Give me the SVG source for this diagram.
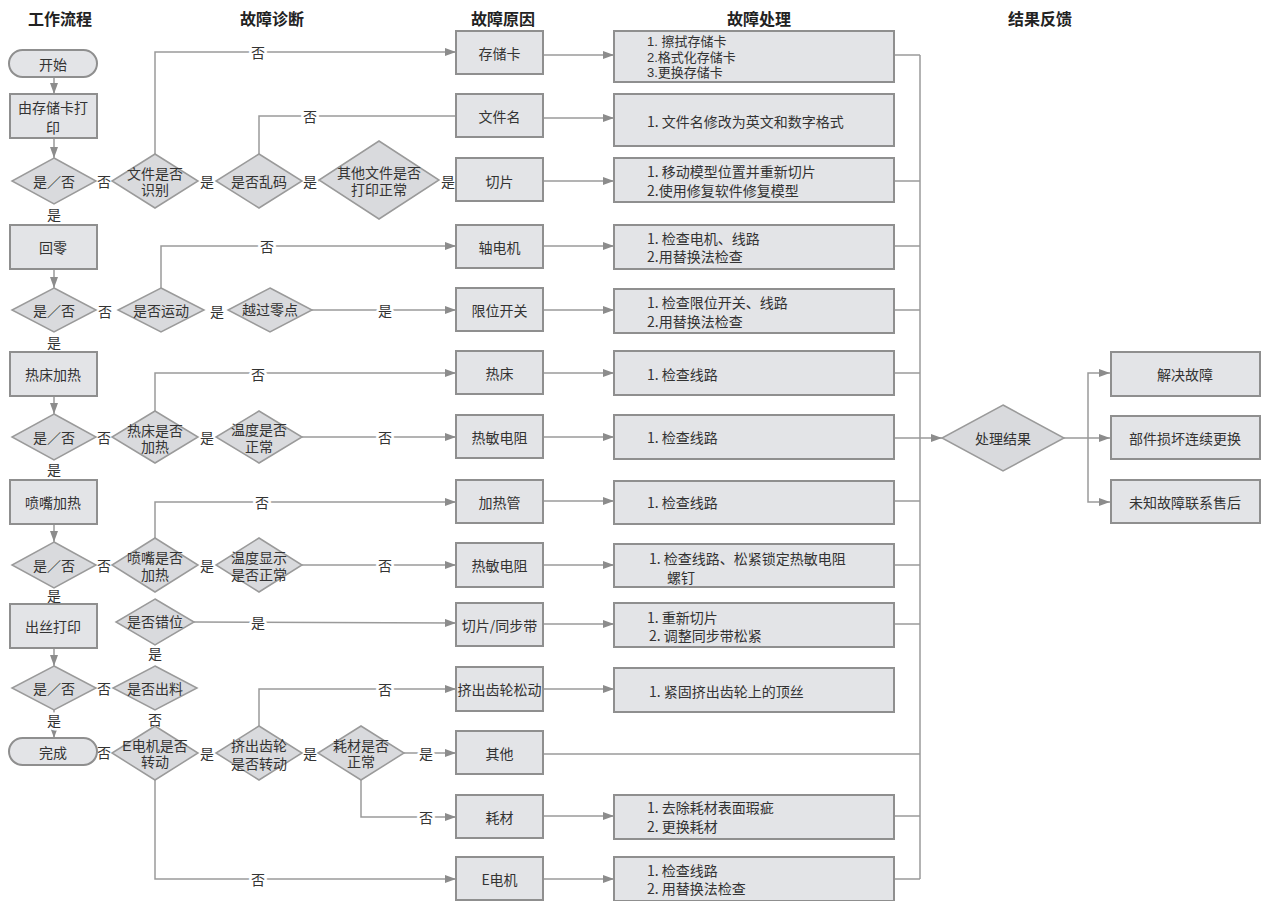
<svg xmlns="http://www.w3.org/2000/svg" width="1261" height="901" viewBox="0 0 1261 901">
<style>
text{font-family:"Noto Sans CJK SC","Noto Sans",sans-serif;font-size:14px;fill:#333;dominant-baseline:central}
.title{font-size:16px;font-weight:bold;fill:#222;text-anchor:middle}
.c{text-anchor:middle}
.s{font-size:13px}
.t{font-family:"Liberation Sans","Noto Sans CJK SC",sans-serif}
.box{fill:#e3e4e7;stroke:#8f8f8f;stroke-width:2}
.dia{fill:#d9dadd;stroke:#9a9a9a;stroke-width:1.5}
.ln{fill:none;stroke:#9a9a9a;stroke-width:1.5}
.ar{marker-end:url(#ah)}
.lbl{text-anchor:middle;stroke:#fff;stroke-width:5;paint-order:stroke;stroke-linejoin:round}
</style>
<defs>
<marker id="ah" markerUnits="userSpaceOnUse" markerWidth="11" markerHeight="8" refX="11" refY="4" orient="auto">
<path d="M0,0 L11,4 L0,8 z" fill="#8c8c8c"/>
</marker>
</defs>
<rect width="1261" height="901" fill="#fff"/>
<g id="titles">
<text class="title" x="60" y="18">工作流程</text>
<text class="title" x="272" y="18">故障诊断</text>
<text class="title" x="503" y="18">故障原因</text>
<text class="title" x="759" y="18">故障处理</text>
<text class="title" x="1040" y="18">结果反馈</text>
</g>
<g id="connectors">
<line class="ln ar" x1="54" y1="77" x2="54" y2="94"/>
<line class="ln ar" x1="54" y1="138" x2="54" y2="158"/>
<line class="ln ar" x1="54" y1="269" x2="54" y2="288"/>
<line class="ln ar" x1="54" y1="396" x2="54" y2="414"/>
<line class="ln ar" x1="54" y1="524" x2="54" y2="542"/>
<line class="ln ar" x1="54" y1="648" x2="54" y2="666"/>
<line class="ln ar" x1="54" y1="710" x2="54" y2="738"/>
<polyline class="ln ar" points="155,154 155,52 456,52"/>
<polyline class="ln" points="259,154 259,116 456,116"/>
<line class="ln ar" x1="302" y1="181" x2="319" y2="181"/>
<polyline class="ln ar" points="161,288 161,246 456,246"/>
<line class="ln ar" x1="312" y1="310" x2="456" y2="310"/>
<polyline class="ln ar" points="155,411 155,373 456,373"/>
<line class="ln ar" x1="302" y1="437" x2="456" y2="437"/>
<polyline class="ln ar" points="155,538 155,502 456,502"/>
<line class="ln ar" x1="302" y1="565" x2="456" y2="565"/>
<line class="ln ar" x1="194" y1="622" x2="456" y2="623"/>
<line class="ln ar" x1="302" y1="753" x2="318" y2="753"/>
<polyline class="ln ar" points="259,726 259,689 456,689"/>
<line class="ln ar" x1="404" y1="753" x2="456" y2="753"/>
<polyline class="ln ar" points="361,780 361,817 456,817"/>
<polyline class="ln ar" points="155,780 155,879 456,879"/>
<line class="ln ar" x1="543" y1="55" x2="614" y2="55"/>
<line class="ln ar" x1="543" y1="118" x2="614" y2="118"/>
<line class="ln ar" x1="543" y1="181" x2="614" y2="181"/>
<line class="ln ar" x1="543" y1="246" x2="614" y2="246"/>
<line class="ln ar" x1="543" y1="310" x2="614" y2="310"/>
<line class="ln ar" x1="543" y1="373" x2="614" y2="373"/>
<line class="ln ar" x1="543" y1="437" x2="614" y2="437"/>
<line class="ln ar" x1="543" y1="501" x2="614" y2="501"/>
<line class="ln ar" x1="543" y1="565" x2="614" y2="565"/>
<line class="ln ar" x1="543" y1="624" x2="614" y2="624"/>
<line class="ln ar" x1="543" y1="689" x2="614" y2="689"/>
<line class="ln ar" x1="543" y1="816" x2="614" y2="816"/>
<line class="ln ar" x1="543" y1="879" x2="614" y2="879"/>
<line class="ln" x1="920" y1="55" x2="920" y2="879"/>
<line class="ln" x1="894" y1="55" x2="920" y2="55"/>
<line class="ln" x1="894" y1="181" x2="920" y2="181"/>
<line class="ln" x1="894" y1="246" x2="920" y2="246"/>
<line class="ln" x1="894" y1="310" x2="920" y2="310"/>
<line class="ln" x1="894" y1="373" x2="920" y2="373"/>
<line class="ln ar" x1="894" y1="438" x2="942" y2="438"/>
<line class="ln" x1="894" y1="501" x2="920" y2="501"/>
<line class="ln" x1="894" y1="565" x2="920" y2="565"/>
<line class="ln" x1="894" y1="624" x2="920" y2="624"/>
<line class="ln" x1="543" y1="754" x2="920" y2="754"/>
<line class="ln" x1="894" y1="816" x2="920" y2="816"/>
<line class="ln" x1="894" y1="879" x2="920" y2="879"/>
<line class="ln ar" x1="1064" y1="438" x2="1110" y2="438"/>
<polyline class="ln ar" points="1088,438 1088,373 1110,373"/>
<polyline class="ln ar" points="1088,438 1088,502 1110,502"/>
</g>
<g id="labels">
<text class="lbl" x="54" y="214">是</text>
<text class="lbl" x="54" y="342">是</text>
<text class="lbl" x="54" y="469">是</text>
<text class="lbl" x="54" y="595">是</text>
<text class="lbl" x="54" y="720">是</text>
<text class="lbl" x="104" y="181">否</text>
<text class="lbl" x="105" y="311">否</text>
<text class="lbl" x="104" y="437">否</text>
<text class="lbl" x="104" y="565">否</text>
<text class="lbl" x="104" y="688">否</text>
<text class="lbl" x="104" y="752">否</text>
<text class="lbl" x="258" y="52">否</text>
<text class="lbl" x="310" y="116">否</text>
<text class="lbl" x="207" y="181">是</text>
<text class="lbl" x="310" y="181">是</text>
<text class="lbl" x="448" y="181">是</text>
<text class="lbl" x="267" y="246">否</text>
<text class="lbl" x="217" y="311">是</text>
<text class="lbl" x="385" y="310">是</text>
<text class="lbl" x="258" y="374">否</text>
<text class="lbl" x="207" y="437">是</text>
<text class="lbl" x="385" y="437">否</text>
<text class="lbl" x="262" y="502">否</text>
<text class="lbl" x="207" y="565">是</text>
<text class="lbl" x="385" y="565">否</text>
<text class="lbl" x="258" y="622">是</text>
<text class="lbl" x="155" y="653">是</text>
<text class="lbl" x="155" y="719">否</text>
<text class="lbl" x="385" y="689">否</text>
<text class="lbl" x="207" y="753">是</text>
<text class="lbl" x="310" y="753">是</text>
<text class="lbl" x="426" y="753">是</text>
<text class="lbl" x="426" y="817">否</text>
<text class="lbl" x="258" y="879">否</text>
</g>
<g id="start"><rect class="box" x="9" y="50" width="88" height="27" rx="13.5"/><text class="c" x="53" y="63.5">开始</text></g>
<g id="printcard"><rect class="box" x="10" y="94" width="87" height="44"/><text class="c" x="53" y="107">由存储卡打<tspan x="53" y="127">印</tspan></text></g>
<g id="yn1"><polygon class="dia" points="54,158 96,181 54,204 12,181"/><text class="c" x="54" y="181">是／否</text></g>
<g id="home"><rect class="box" x="10" y="225" width="87" height="44"/><text class="c" x="53" y="247">回零</text></g>
<g id="yn2"><polygon class="dia" points="54,288 96,310 54,332 12,310"/><text class="c" x="54" y="310">是／否</text></g>
<g id="bedheat"><rect class="box" x="10" y="352" width="87" height="44"/><text class="c" x="53" y="374">热床加热</text></g>
<g id="yn3"><polygon class="dia" points="54,414 96,437 54,460 12,437"/><text class="c" x="54" y="437">是／否</text></g>
<g id="nozheat"><rect class="box" x="10" y="480" width="87" height="44"/><text class="c" x="53" y="502">喷嘴加热</text></g>
<g id="yn4"><polygon class="dia" points="54,542 96,565 54,588 12,565"/><text class="c" x="54" y="565">是／否</text></g>
<g id="extrude"><rect class="box" x="10" y="604" width="87" height="44"/><text class="c" x="53" y="626">出丝打印</text></g>
<g id="yn5"><polygon class="dia" points="54,666 96,688 54,710 12,688"/><text class="c" x="54" y="688">是／否</text></g>
<g id="done"><rect class="box" x="9" y="738" width="88" height="27" rx="13.5"/><text class="c" x="53" y="751.5">完成</text></g>
<g id="d1"><polygon class="dia" points="155,154 198,181 155,208 112,181"/><text class="c t" x="155" y="174">文件是否<tspan x="155" y="190">识别</tspan></text></g>
<g id="d2"><polygon class="dia" points="259,154 302,181 259,208 216,181"/><text class="c" x="259" y="181">是否乱码</text></g>
<g id="d3"><polygon class="dia" points="379,141 439,180 379,219 319,180"/><text class="c t" x="379" y="173">其他文件是否<tspan x="379" y="190">打印正常</tspan></text></g>
<g id="d4"><polygon class="dia" points="161,288 204,310 161,332 118,310"/><text class="c" x="161" y="310">是否运动</text></g>
<g id="d5"><polygon class="dia" points="270,288 312,310 270,332 228,310"/><text class="c" x="270" y="309">越过零点</text></g>
<g id="d6"><polygon class="dia" points="155,411 198,437 155,463 112,437"/><text class="c t" x="155" y="431">热床是否<tspan x="155" y="447">加热</tspan></text></g>
<g id="d7"><polygon class="dia" points="259,411 302,437 259,463 216,437"/><text class="c t" x="259" y="430">温度是否<tspan x="259" y="447">正常</tspan></text></g>
<g id="d8"><polygon class="dia" points="155,538 198,565 155,592 112,565"/><text class="c t" x="155" y="558">喷嘴是否<tspan x="155" y="575">加热</tspan></text></g>
<g id="d9"><polygon class="dia" points="259,538 302,565 259,592 216,565"/><text class="c t" x="259" y="558">温度显示<tspan x="259" y="575">是否正常</tspan></text></g>
<g id="d10"><polygon class="dia" points="155,599 194,622 155,645 116,622"/><text class="c" x="155" y="621">是否错位</text></g>
<g id="d11"><polygon class="dia" points="155,666 197,688 155,710 113,688"/><text class="c" x="155" y="688">是否出料</text></g>
<g id="d12"><polygon class="dia" points="155,726 198,753 155,780 112,753"/><text class="c t" x="155" y="746">E电机是否<tspan x="155" y="762">转动</tspan></text></g>
<g id="d13"><polygon class="dia" points="259,726 302,753 259,780 216,753"/><text class="c t" x="259" y="746">挤出齿轮<tspan x="259" y="764">是否转动</tspan></text></g>
<g id="d14"><polygon class="dia" points="361,726 404,753 361,780 318,753"/><text class="c t" x="361" y="746">耗材是否<tspan x="361" y="762">正常</tspan></text></g>
<g id="c1"><rect class="box" x="456" y="31" width="87" height="43"/><text class="c" x="499.5" y="52.5">存储卡</text></g>
<g id="c2"><rect class="box" x="456" y="94" width="87" height="43"/><text class="c" x="499.5" y="116">文件名</text></g>
<g id="c3"><rect class="box" x="456" y="158" width="87" height="43"/><text class="c" x="499.5" y="181">切片</text></g>
<g id="c4"><rect class="box" x="456" y="225" width="87" height="43"/><text class="c" x="499.5" y="246.5">轴电机</text></g>
<g id="c5"><rect class="box" x="456" y="288" width="87" height="43"/><text class="c" x="499.5" y="310">限位开关</text></g>
<g id="c6"><rect class="box" x="456" y="351" width="87" height="43"/><text class="c" x="499.5" y="373">热床</text></g>
<g id="c7"><rect class="box" x="456" y="415" width="87" height="43"/><text class="c" x="499.5" y="437">热敏电阻</text></g>
<g id="c8"><rect class="box" x="456" y="480" width="87" height="43"/><text class="c" x="499.5" y="501.5">加热管</text></g>
<g id="c9"><rect class="box" x="456" y="543" width="87" height="44"/><text class="c" x="499.5" y="565">热敏电阻</text></g>
<g id="c10"><rect class="box" x="456" y="603" width="87" height="43"/><text class="c" x="499.5" y="624.5">切片/同步带</text></g>
<g id="c11"><rect class="box" x="456" y="667" width="87" height="44"/><text class="c" x="499.5" y="689">挤出齿轮松动</text></g>
<g id="c12"><rect class="box" x="456" y="731" width="87" height="43"/><text class="c" x="499.5" y="753">其他</text></g>
<g id="c13"><rect class="box" x="456" y="795" width="87" height="43"/><text class="c" x="499.5" y="817">耗材</text></g>
<g id="c14"><rect class="box" x="456" y="857" width="87" height="43"/><text class="c" x="499.5" y="879">E电机</text></g>
<g id="h1"><rect class="box" x="614" y="31" width="280" height="51"/><text class="s t" x="647" y="41">1. 擦拭存储卡<tspan x="647" y="56.5">2.格式化存储卡</tspan><tspan x="647" y="72">3.更换存储卡</tspan></text></g>
<g id="h2"><rect class="box" x="614" y="94" width="280" height="52"/><text x="647" y="121">1. 文件名修改为英文和数字格式</text></g>
<g id="h3"><rect class="box" x="614" y="158" width="280" height="44"/><text x="647" y="171">1. 移动模型位置并重新切片<tspan x="647" y="190">2.使用修复软件修复模型</tspan></text></g>
<g id="h4"><rect class="box" x="614" y="225" width="280" height="44"/><text x="647" y="238">1. 检查电机、线路<tspan x="647" y="256">2.用替换法检查</tspan></text></g>
<g id="h5"><rect class="box" x="614" y="289" width="280" height="44"/><text x="647" y="302">1. 检查限位开关、线路<tspan x="647" y="321">2.用替换法检查</tspan></text></g>
<g id="h6"><rect class="box" x="614" y="351" width="280" height="44"/><text x="647" y="374">1. 检查线路</text></g>
<g id="h7"><rect class="box" x="614" y="415" width="280" height="44"/><text x="647" y="437">1. 检查线路</text></g>
<g id="h8"><rect class="box" x="614" y="481" width="280" height="43"/><text x="647" y="502">1. 检查线路</text></g>
<g id="h9"><rect class="box" x="614" y="544" width="280" height="43"/><text x="649" y="558">1. 检查线路、松紧锁定热敏电阻<tspan x="667" y="577">螺钉</tspan></text></g>
<g id="h10"><rect class="box" x="614" y="603" width="280" height="44"/><text x="647" y="617">1. 重新切片<tspan x="649" y="635">2. 调整同步带松紧</tspan></text></g>
<g id="h11"><rect class="box" x="614" y="668" width="280" height="44"/><text x="649" y="691">1. 紧固挤出齿轮上的顶丝</text></g>
<g id="h13"><rect class="box" x="614" y="795" width="280" height="44"/><text x="647" y="807">1. 去除耗材表面瑕疵<tspan x="647" y="826">2. 更换耗材</tspan></text></g>
<g id="h14"><rect class="box" x="614" y="857" width="280" height="44"/><text x="647" y="870">1. 检查线路<tspan x="647" y="888">2. 用替换法检查</tspan></text></g>
<g id="result"><polygon class="dia" points="1003,405 1064,438 1003,471 942,438"/><text class="c" x="1003" y="438">处理结果</text></g>
<g id="r1"><rect class="box" x="1111" y="352" width="149" height="44"/><text class="c" x="1185" y="374">解决故障</text></g>
<g id="r2"><rect class="box" x="1111" y="416" width="149" height="43"/><text class="c" x="1185" y="438">部件损坏连续更换</text></g>
<g id="r3"><rect class="box" x="1111" y="480" width="149" height="43"/><text class="c" x="1185" y="502">未知故障联系售后</text></g>
</svg>
